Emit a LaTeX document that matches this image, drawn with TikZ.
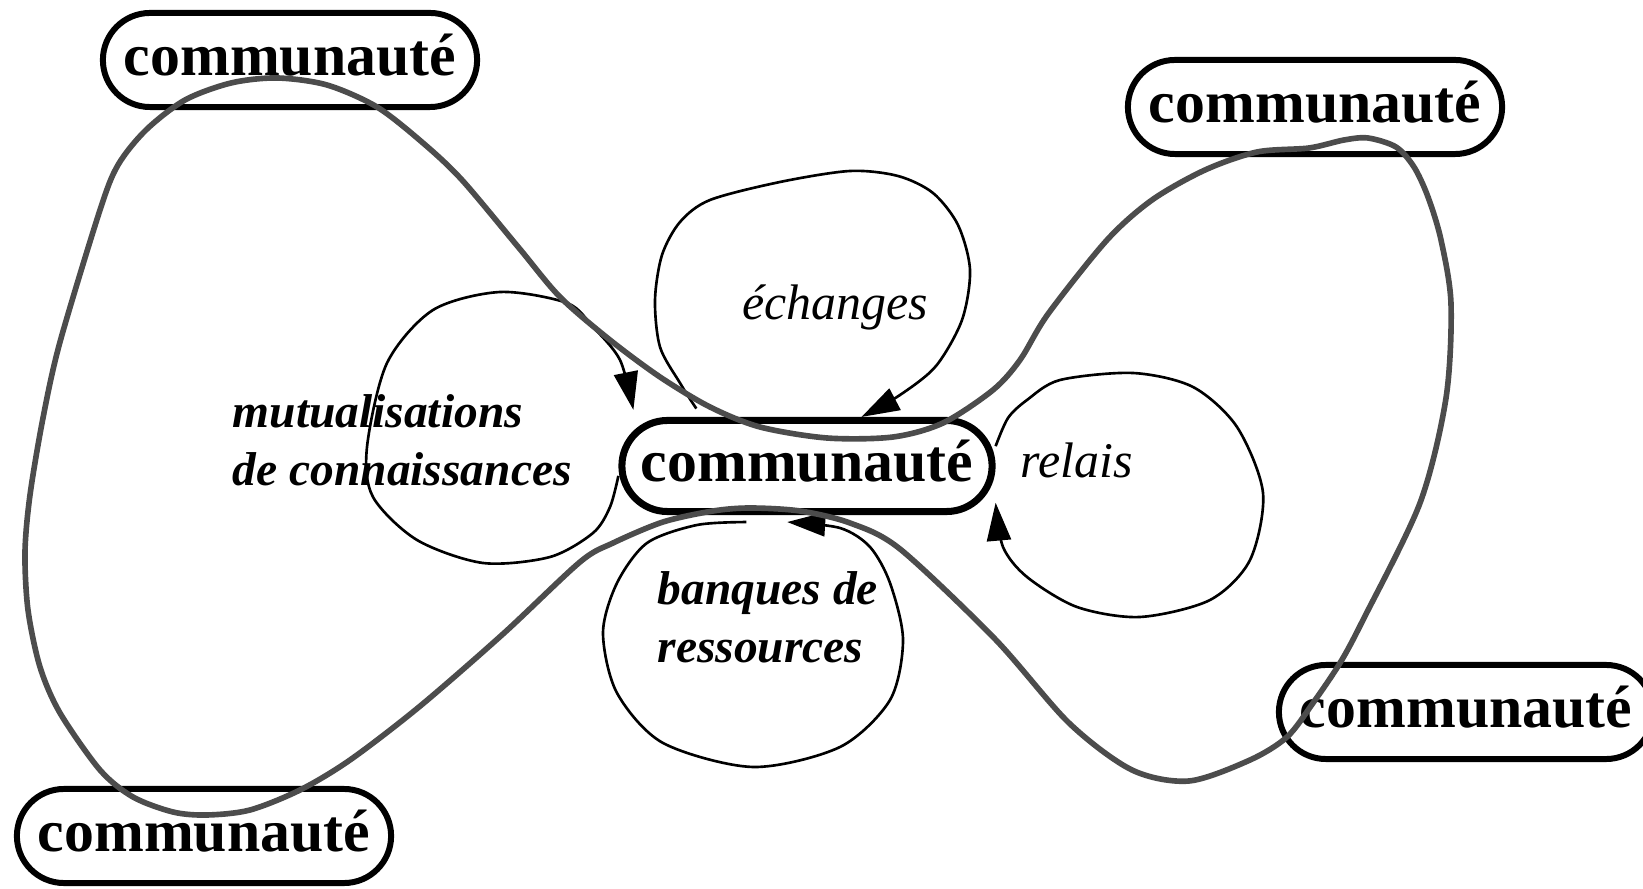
\documentclass[tikz,border=0pt]{standalone}
\usepackage{fontspec}
\setmainfont{Liberation Serif}
\usetikzlibrary{arrows.meta}

\begin{document}
\begin{tikzpicture}[x=0.01cm,y=-0.01cm,>={Triangle[length=0.38cm,width=0.24cm]},
	comm/.style={rectangle,draw,fill=white,line width=1.7pt,rounded corners=0.47cm,
		minimum width=3.74cm,minimum height=0.94cm,text height=9pt,text depth=0pt,
		font=\fontsize{17}{20}\selectfont\bfseries},
	hubbox/.style={comm,line width=2pt,minimum width=3.7cm,minimum height=0.91cm,rounded corners=0.455cm},
	loopline/.style={draw,line width=0.75pt},
	web/.style={draw=black!70,line width=1.6pt},
	lblit/.style={inner sep=0pt,font=\fontsize{14.2}{17}\selectfont\itshape},
	lblbf/.style={inner sep=0pt,align=left,font=\fontsize{13.5}{16.5}\selectfont\bfseries\itshape}
	]

	\useasboundingbox (0,0) rectangle (1643,889);
	\clip (0,0) rectangle (1643,889);

	\node[comm] (cTL) at (290,60) {communauté};
	\node[comm] (cTR) at (1315,107) {communauté};
	\node[hubbox] (hub) at (807,466) {communauté};
	\node[comm] (cBR) at (1466,712) {communauté};
	\node[comm] (cBL) at (204,836) {communauté};

	\draw[loopline,->,shorten <=0.1cm] plot[smooth] coordinates {(hub.155) (680,383) (660,347) (655,300) (662,255) (680,222) (710,200) (780,182) (850,171) (898,176) (933,193) (958,225) (970,270) (962,320) (936,366) (900,395) (hub.42)};
	\draw[loopline,->] plot[smooth] coordinates {(hub.183) (610,507) (593,533) (550,557) (483,563) (417,540) (373,497) (367,447) (387,363) (433,310) (500,292) (567,303) (593,327) (620,360) ([shift={(0.15cm,0.07cm)}]hub.north west)};
	\draw[loopline,->] plot[smooth] coordinates {(hub.6) (1008,418) (1027,400) (1060,380) (1133,373) (1193,387) (1237,427) (1263,493) (1250,560) (1210,600) (1140,617) (1077,607) (1027,577) (1003,547) (hub.-11)};
	\draw[loopline,->] plot[smooth] coordinates {([yshift=-0.07cm]hub.219) (697,525) (647,543) (617,583) (603,633) (617,693) (663,743) (753,767) (840,747) (890,700) (903,640) (890,583) (870,547) (840,528) ([yshift=-0.07cm]hub.248)};

	\node[lblit,anchor=base] (lech) at (835,320) {échanges};
	\node[lblit,anchor=base west] (lrel) at (1020,478) {relais};
	\node[lblbf,anchor=base west] (lmut) at (232,486) {mutualisations\\de connaissances};
	\node[lblbf,anchor=base west] (lban) at (657,663) {banques de\\ressources};

	\draw[web] plot[smooth cycle] coordinates {(1309,148) (1257,152) (1205,170) (1152,200) (1107,240) (1048,314) (1020,360) (993,390) (943,423) (893,437) (827,438) (760,427) (710,407) (660,377) (610,340) (560,297) (519,248) (462,180) (423,143) (377,107) (327,85) (277,78) (231,83) (185,100) (146,130) (118,165) (100,210) (60,342) (43,418) (30,495) (25,552) (28,610) (40,667) (60,713) (100,770) (133,797) (173,812) (207,815) (250,810) (300,790) (350,760) (419,707) (503,634) (580,562) (613,543) (663,522) (713,511) (750,508) (800,511) (850,523) (900,549) (995,639) (1069,723) (1132,770) (1189,781) (1250,760) (1287,737) (1313,703) (1340,663) (1363,620) (1420,503) (1446,398) (1451,304) (1441,240) (1428,197) (1414,167) (1396,147) (1368,138) (1344,140)};

\end{tikzpicture}
\end{document}
